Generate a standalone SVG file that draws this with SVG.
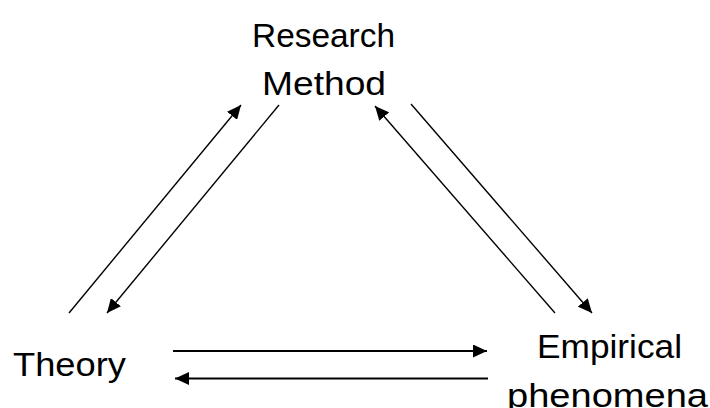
<svg xmlns="http://www.w3.org/2000/svg" width="710" height="408" viewBox="0 0 710 408">
<style>
text{font-family:"Liberation Sans",Arial,sans-serif;font-size:33px;fill:#000}
.c{stroke:#000;fill:none}
.d{stroke-width:1.4}
.h{stroke-width:2}
</style>
<defs>
<marker id="ah" markerUnits="userSpaceOnUse" markerWidth="15" markerHeight="13" refX="14" refY="6.5" orient="auto" viewBox="0 0 15 13">
<path d="M0,0 L14,6.5 L0,13 z" fill="#000"/>
</marker>
</defs>
<rect width="710" height="408" fill="#fff"/>
<g id="research-method">
<text x="252" y="46.7" textLength="143" lengthAdjust="spacingAndGlyphs">Research</text>
<text x="262" y="95" textLength="124" lengthAdjust="spacingAndGlyphs">Method</text>
</g>
<g id="theory">
<text x="13" y="376" textLength="113" lengthAdjust="spacingAndGlyphs">Theory</text>
</g>
<g id="empirical-phenomena">
<text x="537" y="358.3" textLength="145" lengthAdjust="spacingAndGlyphs">Empirical</text>
<text x="507" y="406.5" textLength="201" lengthAdjust="spacingAndGlyphs">phenomena</text>
</g>
<g id="connectors">
<line class="c d" x1="69" y1="313" x2="241" y2="105" marker-end="url(#ah)"/>
<line class="c d" x1="279" y1="105" x2="107" y2="313" marker-end="url(#ah)"/>
<line class="c d" x1="555" y1="313" x2="375" y2="106" marker-end="url(#ah)"/>
<line class="c d" x1="411" y1="104" x2="592" y2="313" marker-end="url(#ah)"/>
<line class="c h" x1="173" y1="351" x2="487" y2="351" marker-end="url(#ah)"/>
<line class="c h" x1="488" y1="378.5" x2="175" y2="378.5" marker-end="url(#ah)"/>
</g>
</svg>
